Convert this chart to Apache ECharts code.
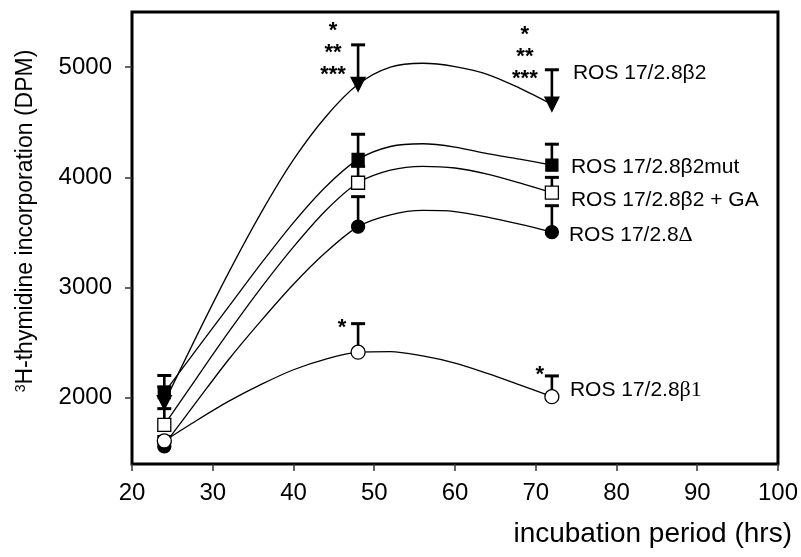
<!DOCTYPE html>
<html>
<head>
<meta charset="utf-8">
<script src="https://cdn.jsdelivr.net/npm/echarts@6/dist/echarts.min.js"></script>
<style>
  html, body { margin: 0; padding: 0; background: #fff; }
  #chart { width: 801px; height: 557px; }
</style>
</head>
<body>
<div id="chart"></div>
<script>
// measured points (hrs) and DPM means / upper error ends
var hours = [24, 48, 72];
var yTicks = [2000, 3000, 4000, 5000];

var b2 = [1957, 4844, 4663];
var b2Err = [2100, 5202, 4976];
var mut = [2047, 4163, 4111];
var mutErr = [2203, 4391, 4301];
var ga = [1754, 3951, 3861];
var gaErr = [1902, 4100, 4000];
var delta = [1559, 3553, 3503];
var deltaErr = [1600, 3825, 3743];
var b1 = [1609, 2414, 2011];
var b1Err = [1650, 2673, 2199];

// significance marks above the error bars
var b2Stars = ['', '*\n**\n***', '*\n**\n***'];
var b1Stars = ['', '*', '*'];

// fitted curves, every 4 hrs
var curveX = [24, 28, 32, 36, 40, 44, 48, 52, 56, 60, 64, 68, 72];
var b2Curve = [1957, 2560, 3140, 3680, 4160, 4550, 4844, 5000, 5035, 5005, 4935, 4810, 4663];
var mutCurve = [2047, 2440, 2830, 3220, 3590, 3915, 4163, 4280, 4305, 4275, 4215, 4165, 4111];
var gaCurve = [1754, 2180, 2600, 3000, 3370, 3700, 3951, 4065, 4100, 4085, 4030, 3950, 3861];
var deltaCurve = [1575, 1965, 2350, 2700, 3030, 3320, 3553, 3660, 3700, 3690, 3640, 3575, 3503];
var b1Curve = [1609, 1795, 1970, 2122, 2255, 2352, 2414, 2420, 2380, 2315, 2222, 2118, 2011];

var FONT = '"Liberation Sans", Arial, sans-serif';

function pairs(xs, ys) {
  return xs.map(function (x, i) { return [x, ys[i]]; });
}

function curve(ys) {
  return {
    type: 'line',
    data: pairs(curveX, ys),
    smooth: 0.3,
    showSymbol: false,
    lineStyle: { color: '#000', width: 1.3 },
    z: 2,
    silent: true
  };
}

function markers(vals, symbol, fill, size, rotate) {
  return {
    type: 'scatter',
    data: pairs(hours, vals),
    symbol: symbol,
    symbolSize: size,
    symbolRotate: rotate || 0,
    itemStyle: { color: fill, borderColor: '#000', borderWidth: 1.3, opacity: 1 },
    z: 4,
    silent: true
  };
}

// error bar + optional stars + name label at the last point
function errBars(vals, errs, stars, starPos, name, namePos) {
  var data = hours.map(function (h, i) { return [h, vals[i], errs[i]]; });
  return {
    type: 'custom',
    data: data,
    z: 3,
    silent: true,
    renderItem: function (params, api) {
      var i = params.dataIndex;
      var p0 = api.coord([api.value(0), api.value(1)]);
      var p1 = api.coord([api.value(0), api.value(2)]);
      var kids = [
        { type: 'line', shape: { x1: p0[0], y1: p0[1], x2: p1[0], y2: p1[1] },
          style: { stroke: '#000', lineWidth: 2.6 } },
        { type: 'line', shape: { x1: p1[0] - 7, y1: p1[1], x2: p1[0] + 7, y2: p1[1] },
          style: { stroke: '#000', lineWidth: 3 } }
      ];
      if (stars && stars[i]) {
        kids.push({ type: 'text', x: p1[0] + starPos[i][0], y: p1[1] + starPos[i][1],
          style: { text: stars[i], align: 'center', verticalAlign: 'middle',
            font: 'bold 22px ' + FONT, lineHeight: 22, fill: '#000' } });
      }
      if (i === 2) {
        kids.push({ type: 'text', x: p0[0] + namePos[0], y: p0[1] + namePos[1],
          style: { text: name, verticalAlign: 'middle', align: 'left',
            font: '21px ' + FONT, fill: '#000',
            rich: { s: { fontFamily: '"Liberation Serif", serif', fontSize: 22 } } } });
      }
      return { type: 'group', children: kids };
    }
  };
}

var chart = echarts.init(document.getElementById('chart'));

var option = {
  animation: false,
  backgroundColor: '#fff',
  grid: {
    left: 132, right: 23, top: 12, bottom: 93,
    show: true, borderColor: '#000', borderWidth: 3
  },
  xAxis: {
    type: 'value',
    min: 20, max: 100, interval: 10,
    axisLine: { show: false },
    axisTick: { show: true, length: 7, lineStyle: { color: '#333', width: 1.5 } },
    axisLabel: { color: '#000', fontSize: 24, fontFamily: FONT, margin: 17 },
    splitLine: { show: false }
  },
  yAxis: {
    type: 'value',
    min: 1400, max: 5500,
    axisLine: { show: false },
    axisTick: { show: true, length: 7, customValues: yTicks, lineStyle: { color: '#333', width: 1.5 } },
    axisLabel: {
      color: '#000', fontSize: 24, fontFamily: FONT, margin: 20, customValues: yTicks,
      formatter: function (v) { return String(v); }
    },
    splitLine: { show: false }
  },
  graphic: [{
    type: 'text', x: 26, y: 221, rotation: Math.PI / 2,
    style: {
      text: '{sup|3}H-thymidine incorporation (DPM)',
      fontSize: 23, fontFamily: FONT, fill: '#000',
      align: 'center', verticalAlign: 'middle',
      rich: { sup: { fontSize: 14, fontFamily: FONT, verticalAlign: 'top', padding: [0, 0, 10, 0] } }
    }
  }, {
    type: 'text', right: 9, top: 520,
    style: { text: 'incubation period (hrs)', fontSize: 28, fontFamily: FONT, fill: '#000' }
  }],
  series: [
    errBars(b2, b2Err, b2Stars, [[0, 0], [-25, 8], [-27, -13]], 'ROS 17/2.8β2', [21, -31]),
    errBars(mut, mutErr, null, null, 'ROS 17/2.8β2mut', [19, 2]),
    errBars(ga, gaErr, null, null, 'ROS 17/2.8β2 + GA', [19, 8]),
    errBars(delta, deltaErr, null, null, 'ROS 17/2.8{s|Δ}', [17, 3]),
    errBars(b1, b1Err, b1Stars, [[0, 0], [-16, 4], [-12, -1]], 'ROS 17/2.8{s|β1}', [18, -6]),
    curve(b2Curve),
    curve(mutCurve),
    curve(gaCurve),
    curve(deltaCurve),
    curve(b1Curve),
    markers(b2, 'triangle', '#000', 14, 180),
    markers(mut, 'rect', '#000', 12),
    markers(ga, 'rect', '#fff', 13),
    markers(delta, 'circle', '#000', 13),
    markers(b1, 'circle', '#fff', 14)
  ]
};

chart.setOption(option);
</script>
</body>
</html>
